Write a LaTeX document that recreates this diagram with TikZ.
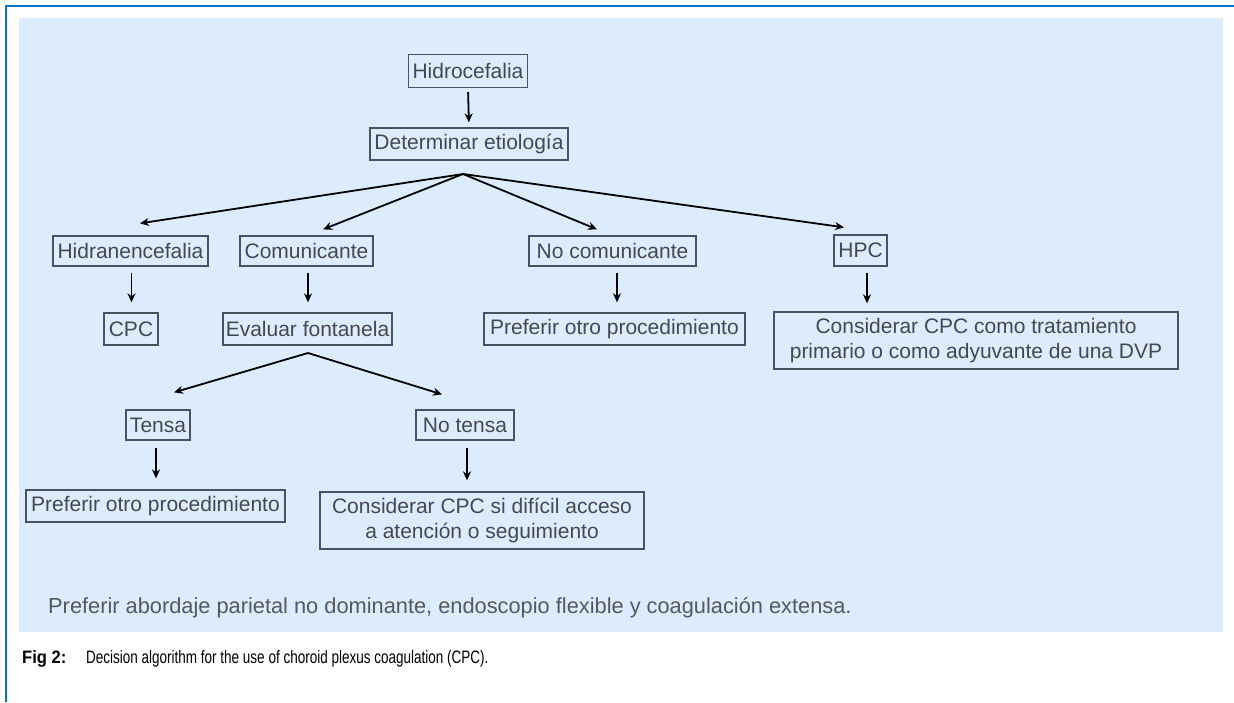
\documentclass[tikz,border=0pt]{standalone}
\usepackage{fontspec}
\setmainfont{Liberation Sans}
\newfontfamily\narrowfont[FakeStretch=0.75]{Liberation Sans}
\newfontfamily\narrowboldfont[FakeStretch=0.92]{Liberation Sans}
\usetikzlibrary{arrows.meta,calc}
\definecolor{frameblue}{HTML}{0A72C4}
\definecolor{panelblue}{HTML}{DDECFC}
\definecolor{txtgray}{HTML}{45484D}
\definecolor{boxgray}{HTML}{4A525C}
\definecolor{foottxt}{HTML}{55585D}
\tikzset{
  box/.style={draw=boxgray, line width=1.3pt, inner sep=0pt, text=txtgray,
    font=\fontsize{21}{24.5}\selectfont, align=center},
  arr/.style={-{Stealth[length=9pt,width=8pt]}, line width=1.8pt, black},
}
\begin{document}
\begin{tikzpicture}[x=1pt,y=-1pt]
\useasboundingbox (0,0) rectangle (1234,702);
\fill[white] (0,0) rectangle (1234,702);
\draw[frameblue, line width=2.6pt] (6,702) -- (6,6) -- (1234,6);
\fill[panelblue] (19,18) rectangle (1223,632);

\node[box, minimum width=119pt, minimum height=33pt] (hidro) at (468,71) {Hidrocefalia};
\node[box, minimum width=198pt, minimum height=32pt] (det) at (469,144) {Determinar etiología};
\node[box, minimum width=155pt, minimum height=30pt] (hidra) at (130.5,251) {Hidranencefalia};
\node[box, minimum width=133pt, minimum height=30pt] (com) at (306.5,251) {Comunicante};
\node[box, minimum width=167pt, minimum height=30pt] (nocom) at (612.5,251) {No comunicante};
\node[box, minimum width=53pt, minimum height=31pt] (hpc) at (860.5,250.5) {HPC};
\node[box, minimum width=54pt, minimum height=32pt] (cpc) at (131,329) {CPC};
\node[box, minimum width=169pt, minimum height=32pt] (eval) at (307.5,329) {Evaluar fontanela};
\node[box, minimum width=261pt, minimum height=32pt] (pref1) at (614.5,329) {Preferir otro procedimiento};
\node[box, minimum width=404pt, minimum height=57pt] (cons1) at (976,340.5) {Considerar CPC como tratamiento\\primario o como adyuvante de una DVP};
\node[box, minimum width=64pt, minimum height=30pt] (tensa) at (158,425) {Tensa};
\node[box, minimum width=98pt, minimum height=30pt] (notensa) at (465,425) {No tensa};
\node[box, minimum width=259pt, minimum height=32pt] (pref2) at (155.5,506) {Preferir otro procedimiento};
\node[box, minimum width=324pt, minimum height=57pt] (cons2) at (482,520.5) {Considerar CPC si difícil acceso\\a atención o seguimiento};

% vertical arrows
\draw[arr, shorten <=4pt, shorten >=5pt] (hidro.south) -- (det.north);
\draw[arr, shorten <=6pt, shorten >=10pt] ([xshift=1pt]hidra.south) -- ([xshift=1pt]hidra.south |- cpc.north);
\draw[arr, shorten <=6pt, shorten >=10pt] ([xshift=1.5pt]com.south) -- ([xshift=1.5pt]com.south |- eval.north);
\draw[arr, shorten <=6pt, shorten >=10pt] ([xshift=4.5pt]nocom.south) -- ([xshift=4.5pt]nocom.south |- pref1.north);
\draw[arr, shorten <=6pt, shorten >=8pt] ([xshift=6.5pt]hpc.south) -- ([xshift=6.5pt]hpc.south |- cons1.north);
\draw[arr, shorten <=7pt, shorten >=11pt] ([xshift=-2pt]tensa.south) -- ([xshift=-2pt]tensa.south |- pref2.north);
\draw[arr, shorten <=7pt, shorten >=11pt] ([xshift=2pt]notensa.south) -- ([xshift=2pt]notensa.south |- cons2.north);

% fans
\coordinate (fanA) at (463,174);
\draw[arr] (fanA) -- ([shift={(9.5pt,12pt)}]hidra.north);
\draw[arr] (fanA) -- ([shift={(16.5pt,6pt)}]com.north);
\draw[arr] (fanA) -- ([shift={(-15.5pt,6pt)}]nocom.north);
\draw[arr] (fanA) -- ([shift={(-16.5pt,7pt)}]hpc.north);
\coordinate (fanB) at (308,353);
\draw[arr] (fanB) -- ([shift={(16pt,17pt)}]tensa.north);
\draw[arr] (fanB) -- ([shift={(-23pt,15pt)}]notensa.north);

\node[anchor=base west, text=foottxt, font=\fontsize{21.8}{25}\selectfont, inner sep=0pt] (foot) at (48,613) {Preferir abordaje parietal no dominante, endoscopio flexible y coagulación extensa.};
\node[anchor=base west, font=\narrowboldfont\bfseries\fontsize{18}{21}\selectfont, inner sep=0pt] (figlab) at (22,663) {Fig 2:};
\node[anchor=base west, font=\narrowfont\fontsize{18}{21}\selectfont, inner sep=0pt] (cap) at (86,663) {Decision algorithm for the use of choroid plexus coagulation (CPC).};
\end{tikzpicture}
\end{document}
